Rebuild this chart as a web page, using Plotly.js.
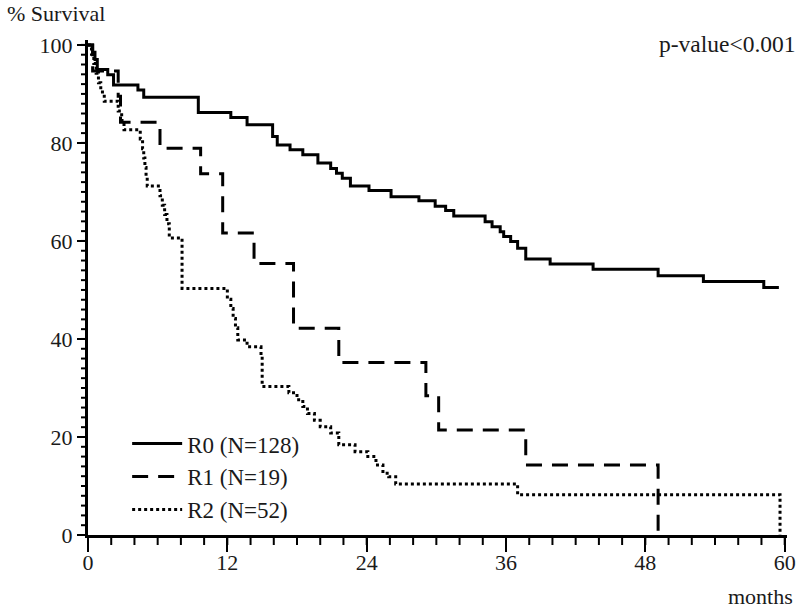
<!DOCTYPE html>
<html>
<head>
<meta charset="utf-8">
<script src="https://cdn.plot.ly/plotly-3.0.1.min.js"></script>
<style>html,body{margin:0;padding:0;background:#fff;}#chart{width:800px;height:608px;}</style>
</head>
<body>
<div id="chart"></div>
<script>
// Kaplan-Meier step data (months, % survival)
const r0Months = [0, 0.4, 0.6, 0.8, 1.7, 2.2, 4.3, 4.8, 9.5, 12.3, 13.7, 15.9, 16.3, 17.4, 18.5, 19.8, 20.9, 21.4, 21.9, 22.6, 24.2, 26.1, 28.5, 29.9, 30.8, 31.5, 34.2, 34.8, 35.5, 35.8, 36.4, 37.0, 37.7, 39.8, 43.5, 49.1, 53.0, 58.2, 59.5];
const r0Survival = [100, 98.5, 97, 95, 93.9, 91.8, 90.8, 89.3, 86.2, 85.2, 83.7, 81.3, 79.6, 78.6, 77.6, 75.9, 74.8, 73.8, 72.8, 71.2, 70.3, 69.0, 68.2, 67.1, 66.2, 65.1, 63.9, 62.9, 61.9, 60.9, 59.9, 58.5, 56.3, 55.3, 54.2, 52.9, 51.7, 50.5, 50.5];

const r1Months = [0, 0.4, 2.6, 2.8, 6.2, 9.7, 11.6, 14.3, 17.7, 21.6, 29.1, 30.2, 37.7, 49.1];
const r1Survival = [100, 94.7, 89.5, 84.2, 78.9, 73.7, 61.6, 55.4, 42.2, 35.2, 28.4, 21.4, 14.3, 0];

const r2Months = [0, 0.3, 0.5, 0.7, 0.9, 1.1, 1.4, 2.6, 2.9, 3.1, 4.5, 4.7, 4.8, 4.9, 5.0, 5.1, 6.2, 6.4, 6.6, 6.8, 7.0, 8.1, 12.0, 12.3, 12.5, 12.7, 12.9, 13.7, 14.9, 15.0, 17.3, 18.0, 18.5, 18.9, 19.5, 20.0, 20.9, 21.6, 23.0, 24.1, 24.8, 25.4, 25.9, 26.5, 37.0, 59.6];
const r2Survival = [100, 98.1, 96.2, 94.2, 92.3, 90.4, 88.5, 86.5, 84.6, 82.7, 80.8, 78.8, 76.9, 75.0, 73.1, 71.2, 69.2, 67.3, 65.4, 63.5, 60.6, 50.3, 48.1, 46.2, 44.2, 42.3, 39.8, 38.4, 36.4, 30.3, 29.0, 27.6, 26.2, 24.8, 23.4, 22.1, 20.8, 18.4, 17.0, 16.0, 14.3, 12.6, 11.9, 10.4, 8.2, 0];

const seriesNames = ['R0 (N=128)', 'R1 (N=19)', 'R2 (N=52)'];
const xTickVals = [0, 12, 24, 36, 48, 60];
const yTickVals = [0, 20, 40, 60, 80, 100];
const xMinorStep = 2;   // months between minor ticks
const yMinorStep = 2;   // % between minor ticks

const FONT = 'Liberation Serif, Times New Roman, serif';
const INK = '#1a1a1a';
const CLEAR = 'rgba(0,0,0,0)';
const X_RANGE = [0, 60.2];
const Y_RANGE = [0, 101];
const MARGIN = {l: 88, r: 13, t: 40, b: 73};
const PLOT_W = 800 - MARGIN.l - MARGIN.r;
const PLOT_H = 608 - MARGIN.t - MARGIN.b;

// minor tick marks along both axes (axis decorations, placed on the axis scales)
const minorTicks = [];
for (let m = xTickVals[0]; m <= xTickVals[xTickVals.length - 1]; m += xMinorStep) {
  minorTicks.push({type: 'line', layer: 'above', xref: 'x', yref: 'paper', x0: m, x1: m, y0: 0, y1: -10 / PLOT_H, line: {color: '#000', width: 2}});
}
for (let p = yTickVals[0]; p <= yTickVals[yTickVals.length - 1]; p += yMinorStep) {
  minorTicks.push({type: 'line', layer: 'above', xref: 'paper', yref: 'y', x0: 0, x1: -7 / PLOT_W, y0: p, y1: p, line: {color: '#000', width: 2}});
}

const traces = [
  {x: r0Months, y: r0Survival, name: seriesNames[0], mode: 'lines', line: {shape: 'hv', color: '#000', width: 3, dash: 'solid'}},
  {x: r1Months, y: r1Survival, name: seriesNames[1], mode: 'lines', line: {shape: 'hv', color: '#000', width: 3, dash: '16px,10px'}},
  {x: r2Months, y: r2Survival, name: seriesNames[2], mode: 'lines', line: {shape: 'hv', color: '#000', width: 3, dash: 'dot'}}
];

const layout = {
  width: 800, height: 608,
  margin: MARGIN,
  paper_bgcolor: '#fff', plot_bgcolor: '#fff',
  font: {family: FONT, size: 22, color: INK},
  showlegend: true,
  legend: {x: 0.056, y: 0.228, xanchor: 'left', yanchor: 'top', bgcolor: CLEAR, font: {family: FONT, size: 23, color: INK}, itemwidth: 50},
  xaxis: {
    range: X_RANGE, tickmode: 'array', tickvals: xTickVals, ticktext: xTickVals.map(String),
    ticks: 'outside', ticklen: 14, tickwidth: 2, tickcolor: '#000', ticklabelstandoff: -8,
    showline: true, linewidth: 3, linecolor: '#000', showgrid: false, zeroline: false,
    tickfont: {family: FONT, size: 22, color: INK}, automargin: false
  },
  yaxis: {
    range: Y_RANGE, tickmode: 'array', tickvals: yTickVals, ticktext: yTickVals.map(String),
    ticks: 'outside', ticklen: 8, tickwidth: 2, tickcolor: '#000',
    showline: true, linewidth: 3, linecolor: '#000', showgrid: false, zeroline: false,
    tickfont: {family: FONT, size: 22, color: INK}, automargin: false
  },
  shapes: minorTicks,
  annotations: [
    {text: '% Survival', xref: 'paper', yref: 'paper', x: -0.1187, y: 1.053, xanchor: 'left', yanchor: 'middle', showarrow: false, font: {family: FONT, size: 22, color: INK}},
    {text: 'p-value&lt;0.001', xref: 'paper', yref: 'paper', x: 1.016, y: 0.992, xanchor: 'right', yanchor: 'middle', showarrow: false, font: {family: FONT, size: 23.5, color: INK}},
    {text: 'months', xref: 'paper', yref: 'paper', x: 1.011, y: -0.125, xanchor: 'right', yanchor: 'middle', showarrow: false, font: {family: FONT, size: 22, color: INK}}
  ]
};

Plotly.newPlot('chart', traces, layout, {staticPlot: true, displayModeBar: false});
</script>
</body>
</html>
